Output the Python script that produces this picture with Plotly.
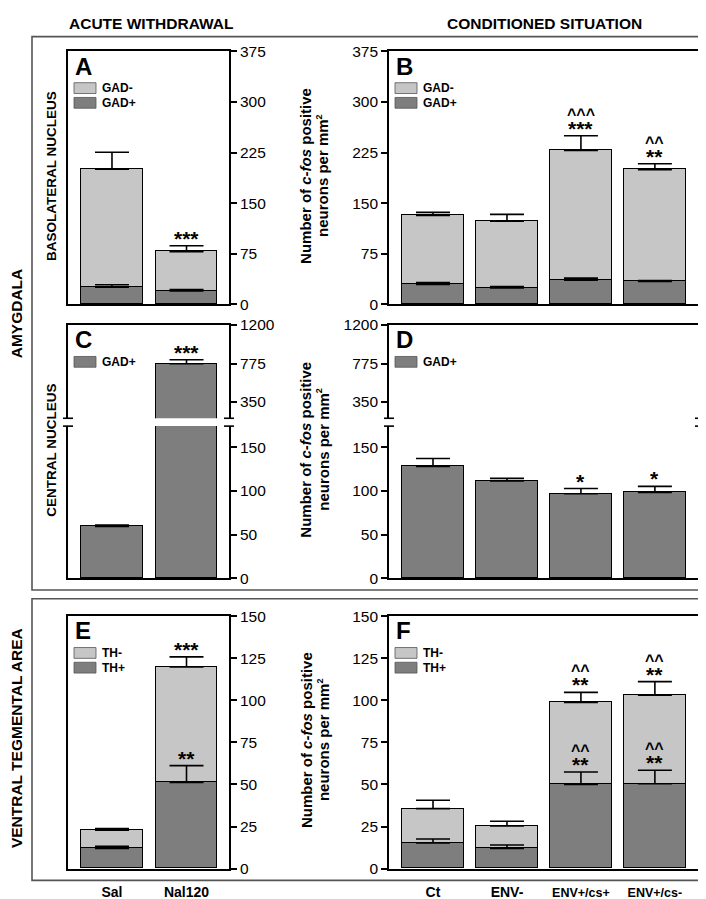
import plotly.graph_objects as go

W, H = 706, 899

# ---------------- data ----------------
acute_groups = ["Sal", "Nal120"]
cond_groups = ["Ct", "ENV-", "ENV+/cs+", "ENV+/cs-"]
cond_tick_text = ["Ct", "ENV-",
                  "<span style='font-size:12.5px'>ENV+/cs+</span>",
                  "<span style='font-size:12.5px'>ENV+/cs-</span>"]

# A: basolateral nucleus, acute withdrawal
bla_acute_gadpos = [25.7, 20.0]
bla_acute_gadpos_err = [3.5, 2.0]
bla_acute_gadneg = [174.8, 58.0]
bla_acute_total_err = [25.0, 9.0]
bla_acute_sig = ["", "***"]

# B: basolateral nucleus, conditioned situation
bla_cond_gadpos = [29.5, 24.5, 36.0, 34.0]
bla_cond_gadpos_err = [3.0, 2.0, 3.0, 1.5]
bla_cond_gadneg = [102.5, 99.0, 192.0, 165.5]
bla_cond_total_err = [4.5, 10.0, 22.0, 9.0]
bla_cond_sig = ["", "", "*** ^^^", "** ^^"]

# C: central nucleus, acute withdrawal
ce_acute_gadpos = [59.5, 772.0]
ce_acute_err = [1.5, 45.0]
ce_acute_sig = ["", "***"]

# D: central nucleus, conditioned situation
ce_cond_gadpos = [128.0, 111.3, 96.7, 98.2]
ce_cond_err = [9.0, 3.0, 6.0, 7.0]
ce_cond_sig = ["", "", "*", "*"]

# E: VTA, acute withdrawal
vta_acute_thpos = [12.0, 51.2]
vta_acute_thpos_err = [1.2, 10.0]
vta_acute_thneg = [10.8, 68.6]
vta_acute_total_err = [1.0, 6.0]
vta_acute_pos_sig = ["", "**"]
vta_acute_total_sig = ["", "***"]

# F: VTA, conditioned situation
vta_cond_thpos = [15.3, 12.0, 50.0, 50.4]
vta_cond_thpos_err = [2.3, 2.0, 7.4, 8.0]
vta_cond_thneg = [20.3, 13.4, 48.7, 52.7]
vta_cond_total_err = [5.0, 2.7, 6.0, 8.0]
vta_cond_pos_sig = ["", "", "** ^^", "** ^^"]
vta_cond_total_sig = ["", "", "** ^^", "** ^^"]

ticks_bla = [0, 75, 150, 225, 300, 375]
ticks_ce_upper = [350, 775, 1200]
ticks_ce_lower = [0, 50, 100, 150]
ticks_vta = [0, 25, 50, 75, 100, 125, 150]

# ---------------- styling ----------------
LIGHT = "#c6c6c6"
DARK = "#7e7e7e"
FONT = "Liberation Sans, Arial, sans-serif"
FRAME = "#555555"


def X(px):
    return px / W


def Y(py):
    return 1 - py / H


def xdom(a, b):
    return [X(a), X(b)]


def ydom(top, bottom):
    return [Y(bottom), Y(top)]


LEFT = (60, 221)
RIGHT = (381, 692)
ROW1 = (35, 293)
CUP = (314, 409)
CLO = (417, 572.3)
ROW3 = (610.7, 868)

fig = go.Figure()


def ax_names(n):
    return ("x" if n == 1 else f"x{n}", "y" if n == 1 else f"y{n}")


def add_bar(n, cats, vals, color, width):
    xa, ya = ax_names(n)
    fig.add_trace(go.Bar(
        x=cats, y=vals, width=width,
        marker=dict(color=color, line=dict(color="black", width=1.5)),
        xaxis=xa, yaxis=ya, showlegend=False, hoverinfo="skip"))


def add_err(n, cats, tops, errs, capw=17):
    xa, ya = ax_names(n)
    fig.add_trace(go.Scatter(
        x=cats, y=tops, mode="markers",
        marker=dict(size=1, color="rgba(0,0,0,0)"),
        error_y=dict(type="data", array=errs, arrayminus=[0] * len(errs),
                     symmetric=False, color="black", thickness=1.6, width=capw),
        xaxis=xa, yaxis=ya, showlegend=False, hoverinfo="skip",
        cliponaxis=True))


def add_sig(n, cats, tops, errs, sigs):
    xa, ya = ax_names(n)
    for c, t, e, s in zip(cats, tops, errs, sigs):
        if not s:
            continue
        for i, piece in enumerate(s.split(" ")):
            caret = piece.startswith("^")
            fig.add_annotation(
                x=c, y=t + e, xref=xa, yref=ya,
                text=piece, showarrow=False, yanchor="bottom",
                yshift=(11 if caret else -6),
                font=dict(family=FONT, size=16 if caret else 21,
                          color="black", weight="bold"))


def totals(a, b):
    return [p + q for p, q in zip(a, b)]


# A
add_bar(1, acute_groups, bla_acute_gadpos, DARK, 0.83)
add_bar(1, acute_groups, bla_acute_gadneg, LIGHT, 0.83)
add_err(1, acute_groups, bla_acute_gadpos, bla_acute_gadpos_err)
tA = totals(bla_acute_gadpos, bla_acute_gadneg)
add_err(1, acute_groups, tA, bla_acute_total_err)
add_sig(1, acute_groups, tA, bla_acute_total_err, bla_acute_sig)

# B
add_bar(2, cond_groups, bla_cond_gadpos, DARK, 0.84)
add_bar(2, cond_groups, bla_cond_gadneg, LIGHT, 0.84)
add_err(2, cond_groups, bla_cond_gadpos, bla_cond_gadpos_err)
tB = totals(bla_cond_gadpos, bla_cond_gadneg)
add_err(2, cond_groups, tB, bla_cond_total_err)
add_sig(2, cond_groups, tB, bla_cond_total_err, bla_cond_sig)

# C (broken axis: upper 3, lower 4)
for n in (3, 4):
    add_bar(n, acute_groups, ce_acute_gadpos, DARK, 0.83)
    add_err(n, acute_groups, ce_acute_gadpos, ce_acute_err)
add_sig(3, acute_groups, ce_acute_gadpos, ce_acute_err, ce_acute_sig)

# D (broken axis: upper 5, lower 6)
for n in (5, 6):
    add_bar(n, cond_groups, ce_cond_gadpos, DARK, 0.84)
    add_err(n, cond_groups, ce_cond_gadpos, ce_cond_err)
add_sig(6, cond_groups, ce_cond_gadpos, ce_cond_err, ce_cond_sig)

# E
add_bar(7, acute_groups, vta_acute_thpos, DARK, 0.83)
add_bar(7, acute_groups, vta_acute_thneg, LIGHT, 0.83)
add_err(7, acute_groups, vta_acute_thpos, vta_acute_thpos_err)
tE = totals(vta_acute_thpos, vta_acute_thneg)
add_err(7, acute_groups, tE, vta_acute_total_err)
add_sig(7, acute_groups, vta_acute_thpos, vta_acute_thpos_err, vta_acute_pos_sig)
add_sig(7, acute_groups, tE, vta_acute_total_err, vta_acute_total_sig)

# F
add_bar(8, cond_groups, vta_cond_thpos, DARK, 0.84)
add_bar(8, cond_groups, vta_cond_thneg, LIGHT, 0.84)
add_err(8, cond_groups, vta_cond_thpos, vta_cond_thpos_err)
tF = totals(vta_cond_thpos, vta_cond_thneg)
add_err(8, cond_groups, tF, vta_cond_total_err)
add_sig(8, cond_groups, vta_cond_thpos, vta_cond_thpos_err, vta_cond_pos_sig)
add_sig(8, cond_groups, tF, vta_cond_total_err, vta_cond_total_sig)

# ---------------- axes ----------------
tickfont = dict(family=FONT, size=15.5, color="black")
catfont = dict(family=FONT, size=14, color="black", weight="bold")
RNG_L = [-0.59, 1.57]
RNG_R = [-0.595, 3.61]


def xax(dom, rng, anchor, side="bottom", mirror=True, labels=None, tt=None):
    d = dict(domain=dom, range=rng, anchor=anchor, type="category",
             showline=True, linecolor="black", linewidth=1.6, mirror=mirror,
             side=side, ticks="", showgrid=False, zeroline=False,
             fixedrange=True)
    if labels is not None:
        d.update(showticklabels=True, tickvals=labels,
                 ticktext=tt if tt else labels, tickfont=catfont,
                 ticklabelstandoff=10)
    else:
        d.update(showticklabels=False)
    return d


def yax(dom, rng, anchor, side, tv):
    return dict(domain=dom, range=rng, anchor=anchor, side=side,
                showline=True, linecolor="black", linewidth=1.6, mirror=True,
                ticks="outside", ticklen=6, tickwidth=1.5, tickcolor="black",
                tickvals=tv, tickfont=tickfont, showgrid=False,
                zeroline=False, fixedrange=True)


fig.update_layout(
    xaxis=xax(xdom(*LEFT), RNG_L, "y"),
    yaxis=yax(ydom(*ROW1), [0, 375], "x", "right", ticks_bla),
    xaxis2=xax(xdom(*RIGHT), RNG_R, "y2"),
    yaxis2=yax(ydom(*ROW1), [0, 375], "x2", "left", ticks_bla),
    xaxis3=xax(xdom(*LEFT), RNG_L, "y3", side="top", mirror=False),
    yaxis3=yax(ydom(*CUP), [170, 1200], "x3", "right", ticks_ce_upper),
    xaxis4=xax(xdom(*LEFT), RNG_L, "y4", mirror=False),
    yaxis4=yax(ydom(*CLO), [0, 174], "x4", "right", ticks_ce_lower),
    xaxis5=xax(xdom(*RIGHT), RNG_R, "y5", side="top", mirror=False),
    yaxis5=yax(ydom(*CUP), [170, 1200], "x5", "left", ticks_ce_upper),
    xaxis6=xax(xdom(*RIGHT), RNG_R, "y6", mirror=False),
    yaxis6=yax(ydom(*CLO), [0, 174], "x6", "left", ticks_ce_lower),
    xaxis7=xax(xdom(*LEFT), RNG_L, "y7", labels=acute_groups),
    yaxis7=yax(ydom(*ROW3), [0, 150], "x7", "right", ticks_vta),
    xaxis8=xax(xdom(*RIGHT), RNG_R, "y8", labels=cond_groups, tt=cond_tick_text),
    yaxis8=yax(ydom(*ROW3), [0, 150], "x8", "left", ticks_vta),
)

# ---------------- decorations ----------------
shapes = []
# region frames
shapes.append(dict(type="rect", xref="paper", yref="paper",
                   x0=X(24), x1=X(704), y0=Y(20), y1=Y(584),
                   line=dict(color=FRAME, width=1.6)))
shapes.append(dict(type="rect", xref="paper", yref="paper",
                   x0=X(24), x1=X(704), y0=Y(593), y1=Y(880),
                   line=dict(color=FRAME, width=1.6)))
# axis break marks
for (xl, xr) in (LEFT, RIGHT):
    for xp in (xl, xr):
        for yp in (CUP[1], CLO[0]):
            shapes.append(dict(type="line", xref="paper", yref="paper",
                               x0=X(xp - 5), x1=X(xp + 5), y0=Y(yp), y1=Y(yp),
                               line=dict(color="black", width=1.6)))

annotations = []


def txt(x, y, s, size, angle=0, xanchor="center", yanchor="middle", bold=True):
    annotations.append(dict(x=X(x), y=Y(y), xref="paper", yref="paper",
                            text=s, showarrow=False, textangle=angle,
                            xanchor=xanchor, yanchor=yanchor,
                            font=dict(family=FONT, size=size, color="black",
                                      weight="bold" if bold else "normal")))


# panel letters + legends
legend_A = [("GAD-", LIGHT), ("GAD+", DARK)]
legend_C = [("GAD+", DARK)]
legend_E = [("TH-", LIGHT), ("TH+", DARK)]
panel_specs = [
    ("A", LEFT[0], ROW1[0], legend_A),
    ("B", RIGHT[0], ROW1[0], legend_A),
    ("C", LEFT[0], CUP[0], legend_C),
    ("D", RIGHT[0], CUP[0], legend_C),
    ("E", LEFT[0], ROW3[0], legend_E),
    ("F", RIGHT[0], ROW3[0], legend_E),
]
for letter, bx, by, leg in panel_specs:
    txt(bx + 5, by + 15, letter, 24, xanchor="left")
    for i, (lab, col) in enumerate(leg):
        y0 = by + 32 + 15 * i
        shapes.append(dict(type="rect", xref="paper", yref="paper",
                           x0=X(bx + 6), x1=X(bx + 28), y0=Y(y0), y1=Y(y0 + 11),
                           fillcolor=col, line=dict(color="#555555", width=0.8)))
        txt(bx + 32, y0 + 5.5, lab, 12, xanchor="left")

# column headers
txt(143, 7, "ACUTE WITHDRAWAL", 15.5)
txt(536, 7, "CONDITIONED SITUATION", 15.5)

# region labels
txt(8, 302, "AMYGDALA", 15.5, angle=-90)
txt(8, 735, "VENTRAL TEGMENTAL AREA", 15.5, angle=-90)
txt(44, 162, "BASOLATERAL NUCLEUS", 13.5, angle=-90)
txt(44, 442, "CENTRAL NUCLEUS", 13.5, angle=-90)

# y-axis titles (shared between columns)
for yc in (162, 441, 737):
    txt(298, yc, "Number of <i>c-fos</i> positive", 15, angle=-90)
    txt(315, yc, "neurons per mm<sup><span style='font-size:9px'>2</span></sup>",
        15, angle=-90)

fig.update_layout(
    width=W, height=H, margin=dict(l=0, r=0, t=0, b=0),
    paper_bgcolor="white", plot_bgcolor="white",
    barmode="stack", bargap=0, showlegend=False,
    shapes=shapes, annotations=list(fig.layout.annotations) + annotations,
    font=dict(family=FONT, color="black"),
)

fig.write_html("out.html")
